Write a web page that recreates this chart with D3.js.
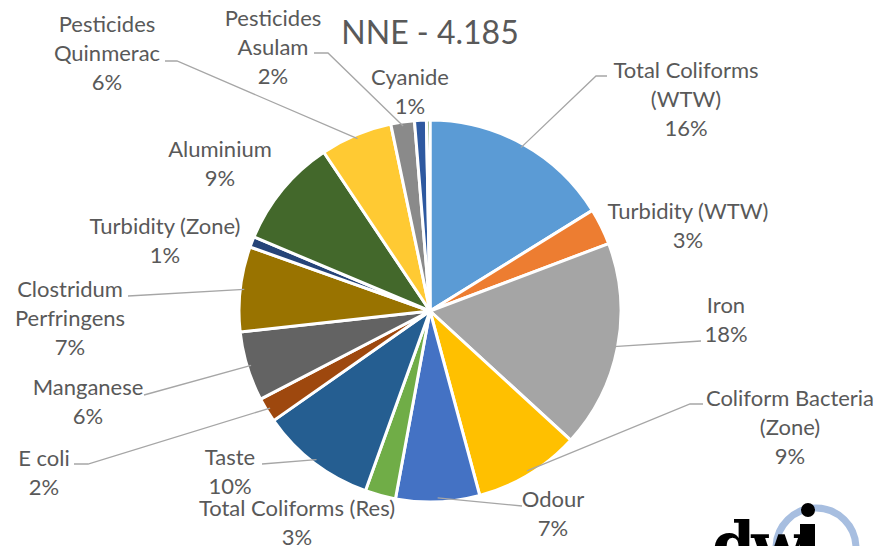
<!DOCTYPE html>
<html>
<head>
<meta charset="utf-8">
<script src="https://cdn.jsdelivr.net/npm/d3@7"></script>
<style>
  body { margin: 0; background: #fff; }
  text { font-family: "Lato", "Open Sans", sans-serif; fill: #595959; }
</style>
</head>
<body>
<div id="chart"></div>
<script>
var width = 888
var height = 546

// data
var categories = ["Total Coliforms (WTW)", "Turbidity (WTW)", "Iron", "Coliform Bacteria (Zone)", "Odour",
    "Total Coliforms (Res)", "Taste", "E coli", "Manganese", "Clostridum Perfringens", "Turbidity (Zone)",
    "Aluminium", "Pesticides Quinmerac", "Pesticides Asulam", "Cyanide", "Other"]
var values = [16.2, 3.1, 17.6, 9.0, 7.1, 2.6, 9.8, 2.1, 5.9, 7.2, 0.9, 9.3, 6.1, 2.0, 1.0, 0.3]
var colors = ["#5B9BD5", "#ED7D31", "#A5A5A5", "#FFC000", "#4472C4", "#70AD47", "#255E91", "#9E480E",
    "#636363", "#997300", "#264478", "#43682B", "#FFCA33", "#8A8A8A", "#2E59A0", "#5A8A3A"]
var title = "NNE - 4.185"

// label layout: text lines, centre x, first line y, leader start (or null)
var labelLayout = {
    "Total Coliforms (WTW)": {lines: ["Total Coliforms", "(WTW)"], x: 686, y: 70, lead: [[607, 76], [596, 76]]},
    "Turbidity (WTW)": {lines: ["Turbidity (WTW)"], x: 688, y: 211, lead: null},
    "Iron": {lines: ["Iron"], x: 726, y: 305, lead: [[701, 341]]},
    "Coliform Bacteria (Zone)": {lines: ["Coliform Bacteria", "(Zone)"], x: 790, y: 398, lead: [[703, 404], [690, 404]]},
    "Odour": {lines: ["Odour"], x: 553, y: 499, lead: [[522, 506]]},
    "Total Coliforms (Res)": {lines: ["Total Coliforms (Res)"], x: 297, y: 508, lead: null},
    "Taste": {lines: ["Taste"], x: 230, y: 457, lead: [[262, 464]]},
    "E coli": {lines: ["E coli"], x: 44, y: 458, lead: [[74, 464], [88, 464]]},
    "Manganese": {lines: ["Manganese"], x: 88, y: 387, lead: [[144, 395]]},
    "Clostridum Perfringens": {lines: ["Clostridum", "Perfringens"], x: 70, y: 289, lead: [[128, 296]]},
    "Turbidity (Zone)": {lines: ["Turbidity (Zone)"], x: 165, y: 226, lead: null},
    "Aluminium": {lines: ["Aluminium"], x: 220, y: 149, lead: null},
    "Pesticides Quinmerac": {lines: ["Pesticides", "Quinmerac"], x: 107, y: 24, lead: [[165, 61], [177, 61]]},
    "Pesticides Asulam": {lines: ["Pesticides", "Asulam"], x: 273, y: 18, lead: [[314, 53], [328, 53]]},
    "Cyanide": {lines: ["Cyanide"], x: 410, y: 77, lead: null}
}

var cx = 430, cy = 311, radius = 191
var lineH = 29

var svg = d3.select("#chart").append("svg")
    .attr("width", width)
    .attr("height", height)

var total = d3.sum(values)
var pie = d3.pie().sort(null).value(d => d.v)
var arcs = pie(categories.map((c, i) => ({c: c, v: values[i], col: colors[i]})))
var arc = d3.arc().innerRadius(0).outerRadius(radius)

var g = svg.append("g").attr("transform", "translate(" + cx + "," + cy + ")")

g.selectAll("path")
    .data(arcs)
    .join("path")
    .attr("d", arc)
    .attr("fill", d => d.data.col)
    .attr("stroke", "white")
    .attr("stroke-width", 3)
    .attr("stroke-linejoin", "round")

// leader lines
arcs.forEach(function(d) {
    var L = labelLayout[d.data.c]
    if (!L || !L.lead) return
    var mid = (d.startAngle + d.endAngle) / 2
    var ex = cx + Math.sin(mid) * (radius - 4)
    var ey = cy - Math.cos(mid) * (radius - 4)
    var pts = L.lead.concat([[ex, ey]])
    svg.append("path")
        .attr("d", d3.line()(pts))
        .attr("fill", "none")
        .attr("stroke", "#A6A6A6")
        .attr("stroke-width", 1.3)
})

// labels
arcs.forEach(function(d) {
    var L = labelLayout[d.data.c]
    if (!L) return
    var pct = d3.format(".0%")(d.data.v / total)
    var lines = L.lines.concat([pct])
    var t = svg.append("text")
        .attr("text-anchor", "middle")
        .style("font-size", "22px")
    lines.forEach(function(s, i) {
        t.append("tspan")
            .attr("x", L.x)
            .attr("y", L.y + i * lineH + 8)
            .text(s)
    })
})

svg.append("text")
    .attr("x", 430)
    .attr("y", 44)
    .attr("text-anchor", "middle")
    .style("font-size", "32px")
    .text(title)

// dwi logo
var logo = svg.append("g")
logo.append("circle")
    .attr("cx", 816).attr("cy", 548).attr("r", 40)
    .attr("fill", "none")
    .attr("stroke", "#A7BEE0")
    .attr("stroke-width", 7)
logo.append("text")
    .attr("x", 712).attr("y", 566)
    .style("font-family", "DejaVu Serif")
    .style("font-weight", "bold")
    .style("font-size", "62px")
    .style("fill", "#000")
    .style("letter-spacing", "-4px")
    .text("dw")
logo.append("rect")
    .attr("x", 800).attr("y", 524).attr("width", 15).attr("height", 30)
    .attr("fill", "#000")
logo.append("circle")
    .attr("cx", 808).attr("cy", 510).attr("r", 7)
    .attr("fill", "#000")
</script>
</body>
</html>
